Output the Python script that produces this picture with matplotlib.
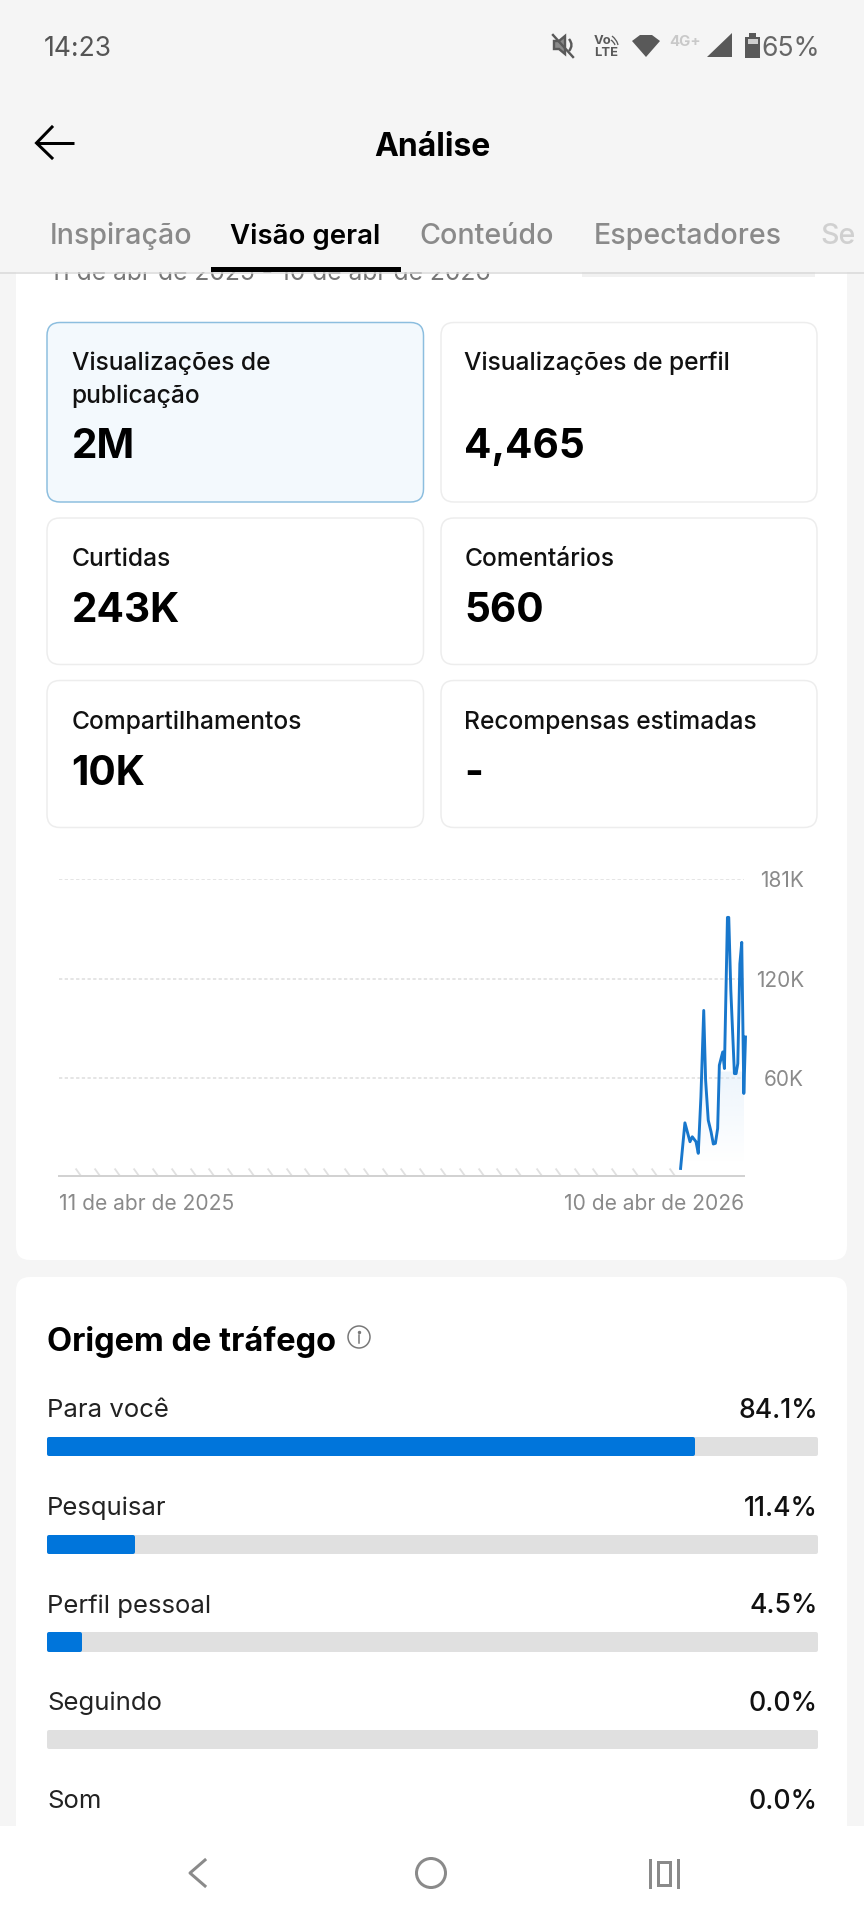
import numpy as np
import matplotlib
matplotlib.use("Agg")
import matplotlib.pyplot as plt
from matplotlib.patches import FancyBboxPatch, Rectangle, Circle, Polygon, PathPatch
from matplotlib.path import Path

# ---------- data ----------
stat_labels = ["Visualizações de\npublicação", "Visualizações de perfil", "Curtidas",
               "Comentários", "Compartilhamentos", "Recompensas estimadas"]
stat_values = ["2M", "4,465", "243K", "560", "10K", "-"]

line_days = [330.3, 332.6, 335.3, 336.5, 338.5, 339.7, 341.1, 342.6, 343.6, 345.0, 346.5,
             347.7, 348.8, 350.0, 350.9, 352.7, 353.6, 355.2, 355.9, 357.0, 358.9, 359.8,
             360.7, 361.8, 362.8, 363.9, 364.8]
line_views = [4.6, 32.4, 20.9, 23.9, 20.9, 13.8, 48.2, 100.9, 58.4, 34.0, 26.9,
              19.5, 19.9, 29.0, 67.5, 75.6, 65.5, 157.6, 157.6, 113.0, 62.4, 62.4,
              68.5, 129.3, 142.4, 50.3, 84.7]
zero_mark_days = [10, 20, 31, 41, 51, 61, 71, 81, 91, 102, 112, 122, 132, 142, 153, 163, 173,
                  183, 193, 204, 214, 224, 234, 244, 255, 265, 275, 285, 295, 306, 316, 326]
y_ticks = [60, 120, 181]
y_tick_labels = ["60K", "120K", "181K"]
x_ticks = [0, 364]
x_tick_labels = ["11 de abr de 2025", "10 de abr de 2026"]

traffic_sources = ["Para você", "Pesquisar", "Perfil pessoal", "Seguindo", "Som"]
traffic_share = [84.1, 11.4, 4.5, 0.0, 0.0]

tabs = ["Inspiração", "Visão geral", "Conteúdo", "Espectadores"]

# ---------- setup ----------
W, H = 864, 1920
DPI = 100
plt.rcParams["font.family"] = ["Inter", "DejaVu Sans"]
px = 72 / DPI
BG = "#F5F5F5"
fig = plt.figure(figsize=(W / DPI, H / DPI), dpi=DPI, facecolor=BG)


def px_axes(x0, y0, x1, y1, **kw):
    return fig.add_axes([x0 / W, 1 - y1 / H, (x1 - x0) / W, (y1 - y0) / H], **kw)


def ui_axes(z):
    a = px_axes(0, 0, W, H, zorder=z)
    a.set_xlim(0, W)
    a.set_ylim(H, 0)
    a.axis("off")
    a.patch.set_alpha(0)
    return a


bg = ui_axes(0)
top = ui_axes(5)


def T(a, x, y, s, size, color="#111111", weight="normal", ha="left", **kw):
    return a.text(x, y, s, fontsize=size * px, color=color, fontweight=weight, ha=ha,
                  va="center_baseline", **kw)


def round_box(a, x0, y0, x1, y1, r, fc, ec="none", lw=0, z=1):
    a.add_patch(FancyBboxPatch((x0 + r, y0 + r), x1 - x0 - 2 * r, y1 - y0 - 2 * r,
                               boxstyle=f"round,pad={r},rounding_size={r}",
                               fc=fc, ec=ec, lw=lw * px, zorder=z))


# ---------- white panels ----------
round_box(bg, 16, 200, 847, 1260, 14, "white")
round_box(bg, 16, 1277, 847, 1900, 14, "white")

# clipped date range text beneath the header
T(bg, 49.5, 271, "11 de abr de 2025 - 10 de abr de 2026", 24.6, color="#777777", zorder=2)
bg.add_patch(Rectangle((582, 265), 233, 12, fc="#F1F1F1", ec="none", zorder=2))

# ---------- stat cards ----------
card_cols = [(47, 423.5), (441, 817)]
card_rows = [(322.5, 502), (518, 664.5), (680.5, 827.5)]
label_y = [360.5, 556.5, 719.5]
value_y = [443, 606.5, 770]
text_x = [71.5, 464.5]
for i, (lab, val) in enumerate(zip(stat_labels, stat_values)):
    c, r = i % 2, i // 2
    x0, x1 = card_cols[c]
    y0, y1 = card_rows[r]
    sel = i == 0
    round_box(bg, x0, y0, x1, y1, 13, "#F3F9FD" if sel else "white",
              ec="#8CBEDF" if sel else "#EDEDED", lw=1.5, z=3)
    for j, part in enumerate(lab.split("\n")):
        T(bg, text_x[c], label_y[r] + j * 33, part, 24.6, color="#111111", weight="medium", zorder=4)
    T(bg, text_x[c], value_y[r], val, 40.5, color="#000000", weight="bold", zorder=4)

# ---------- line chart ----------
ax = px_axes(59, 879, 744, 1176, zorder=2)
ax.patch.set_alpha(0)
ax.set_xlim(0, 364)
ax.set_ylim(0, 181)
for s in ax.spines.values():
    s.set_visible(False)
ax.spines["bottom"].set_visible(True)
ax.spines["bottom"].set_color("#D2D2D2")
ax.spines["bottom"].set_linewidth(2 * px)
ax.yaxis.tick_right()
ax.set_yticks(y_ticks, y_tick_labels)
ax.set_xticks(x_ticks, x_tick_labels)
ax.tick_params(axis="y", length=0, pad=60 * px, labelsize=20.8 * px, labelcolor="#8A8A8A")
ax.tick_params(axis="x", length=0, pad=17.5 * px, labelsize=21 * px, labelcolor="#8A8A8A")
for t in ax.get_yticklabels():
    t.set_ha("right")
xl = ax.get_xticklabels()
xl[0].set_ha("left")
xl[1].set_ha("right")
ax.grid(axis="y", color="#DDDDDD", lw=1.5 * px, ls=(0, (2.2, 1.6)))
ax.set_axisbelow(True)

mark = Path([(-1, 1.4), (1, -1.4)])
ax.plot(zero_mark_days, [2.6] * len(zero_mark_days), ls="none", marker=mark, ms=8 * px,
        mew=1.8 * px, mec="#E0E0E0", clip_on=False)

days = np.array(line_days)
views = np.array(line_views)
poly = ax.fill_between(days, views, 0, color="none", lw=0)
grad_rows = 128
grad = np.zeros((grad_rows, 1, 4))
grad[..., :3] = matplotlib.colors.to_rgb("#D4E7F8")
levels = np.linspace(0, 181, grad_rows)
grad[:, 0, 3] = np.where(levels < 64, np.clip((levels - 8) / 56, 0, 1) * 0.42, 0)
im = ax.imshow(grad, extent=(days[0], 364, 0, 181), origin="lower", aspect="auto", zorder=1.5)
im.set_clip_path(poly.get_paths()[0], transform=ax.transData)
ax.set_xlim(0, 364)
ax.set_ylim(0, 181)
ax.plot(days, views, color="#1877CC", lw=2.9 * px, solid_joinstyle="round", clip_on=False, zorder=3)

# ---------- traffic ----------
T(bg, 47, 1338, "Origem de tráfego", 32.6, color="#000000", weight="bold", zorder=4)
bg.add_patch(Circle((359, 1337), 11, fc="none", ec="#777777", lw=1.5 * px, zorder=4))
bg.plot([359, 359], [1335, 1343], color="#777777", lw=1.5 * px, zorder=4)
bg.plot([359], [1331.5], marker="o", ms=2 * px, color="#777777", zorder=4)

step = 97.7
first = 1446.5
bax = px_axes(47, first - step / 2, 818, first + 4.5 * step, zorder=2)
bax.patch.set_alpha(0)
bax.set_xlim(0, 100)
bax.set_ylim(4.5, -0.5)
bax.axis("off")
ypos = np.arange(len(traffic_sources))
lw_px = 4
inset = (lw_px / 2) / 771 * 100
bar_h = (19.4 - lw_px) / step
bax.barh(ypos, [100 - 2 * inset] * len(ypos), left=inset, height=bar_h, color="#E0E0E0",
         edgecolor="#E0E0E0", lw=lw_px * px, joinstyle="round", zorder=1)
shown = [(y, v) for y, v in zip(ypos, traffic_share) if v > 0]
bax.barh([y for y, _ in shown], [v - 2 * inset for _, v in shown], left=inset, height=bar_h,
         color="#0075DB", edgecolor="#0075DB", lw=lw_px * px, joinstyle="round", zorder=2)
for y, name, v in zip(ypos, traffic_sources, traffic_share):
    bax.text(0, y - 0.394, name, fontsize=25.7 * px, color="#222222", va="center_baseline", clip_on=False)
    bax.text(100, y - 0.394, f"{v:.1f}%", fontsize=26.6 * px, color="#111111", fontweight="medium",
             ha="right", va="center_baseline", clip_on=False)

# ---------- header overlay ----------
top.add_patch(Rectangle((0, 0), W, 272, fc=BG, ec="none", zorder=1))
top.plot([0, W], [272.5, 272.5], color="#D9D9D9", lw=1.5 * px, zorder=2)

T(top, 44, 46, "14:23", 26.5, color="#555555", zorder=3)
T(top, 820, 46, "65%", 26.5, color="#666666", ha="right", zorder=3)
# battery
top.add_patch(Rectangle((745, 37), 15, 21, fc="#595959", ec="none", zorder=3))
top.add_patch(Rectangle((749, 33), 7, 4, fc="#595959", ec="none", zorder=3))
top.add_patch(Rectangle((747.5, 39), 10, 5, fc="#CFCFCF", ec="none", zorder=3))
# signal
top.add_patch(Polygon([(707, 57), (732, 33), (732, 57)], fc="#595959", ec="none", zorder=3))
T(top, 669, 40, "4G+", 15, color="#C9C9C9", weight="bold", zorder=3)
# wifi
top.add_patch(Polygon([(632, 41), (640, 35), (652, 35), (660, 41), (646, 57)], fc="#595959", ec="none", zorder=3))
# volte
T(top, 594, 40, "Vo", 13, color="#595959", weight="bold", zorder=3)
T(top, 594, 52, "LTE", 13, color="#595959", weight="bold", zorder=3)
top.add_patch(PathPatch(Path([(612, 36), (617, 40), (618, 45)], [1, 3, 3]), fc="none", ec="#595959", lw=1.3 * px, zorder=3))
top.add_patch(PathPatch(Path([(611, 40), (614, 42), (615, 45)], [1, 3, 3]), fc="none", ec="#595959", lw=1.3 * px, zorder=3))
# mute
top.add_patch(Polygon([(554, 41), (559, 41), (565, 36), (565, 54), (559, 49), (554, 49)], fc="#8A8A8A", ec="#595959", lw=2.4 * px, zorder=3))
top.plot([553, 573], [35, 57], color="#595959", lw=2.4 * px, zorder=3)
top.add_patch(PathPatch(Path([(569, 39), (574, 45), (569, 51)], [1, 3, 3]), fc="none", ec="#595959", lw=2.4 * px, zorder=3))

# back arrow
top.plot([36, 74], [143, 143], color="black", lw=3 * px, solid_capstyle="butt", zorder=3)
top.plot([52, 36.5, 52], [127, 143, 158], color="black", lw=3 * px, solid_joinstyle="miter", zorder=3)
T(top, 432, 144, "Análise", 32, color="#000000", weight="bold", ha="center", zorder=3)

T(top, 50, 233, tabs[0], 28.6, color="#8A8A8A", weight="medium", zorder=3)
T(top, 230, 233, tabs[1], 27.6, color="#000000", weight="semibold", zorder=3)
T(top, 419, 233, tabs[2], 28.6, color="#8A8A8A", weight="medium", zorder=3)
T(top, 594, 233, tabs[3], 28.6, color="#8A8A8A", weight="medium", zorder=3)
T(top, 820, 233, "Se", 28.6, color="#D0D0D0", weight="medium", zorder=3)
top.add_patch(Rectangle((211, 267), 190, 5, fc="black", ec="none", zorder=3))

# nav bar
top.add_patch(Rectangle((0, 1826), W, 94, fc="white", ec="none", zorder=1))
top.plot([205, 190, 205], [1860, 1873, 1886], color="#8A8A8A", lw=3 * px, zorder=3)
top.add_patch(Circle((431, 1873), 14.5, fc="none", ec="#8A8A8A", lw=3 * px, zorder=3))
top.plot([650, 650], [1860, 1887], color="#8A8A8A", lw=3 * px, zorder=3)
top.plot([678, 678], [1860, 1887], color="#8A8A8A", lw=3 * px, zorder=3)
top.add_patch(Rectangle((658, 1862), 12, 23, fc="none", ec="#8A8A8A", lw=3 * px, zorder=3))

fig.savefig("out.png", dpi=DPI, facecolor=BG)
